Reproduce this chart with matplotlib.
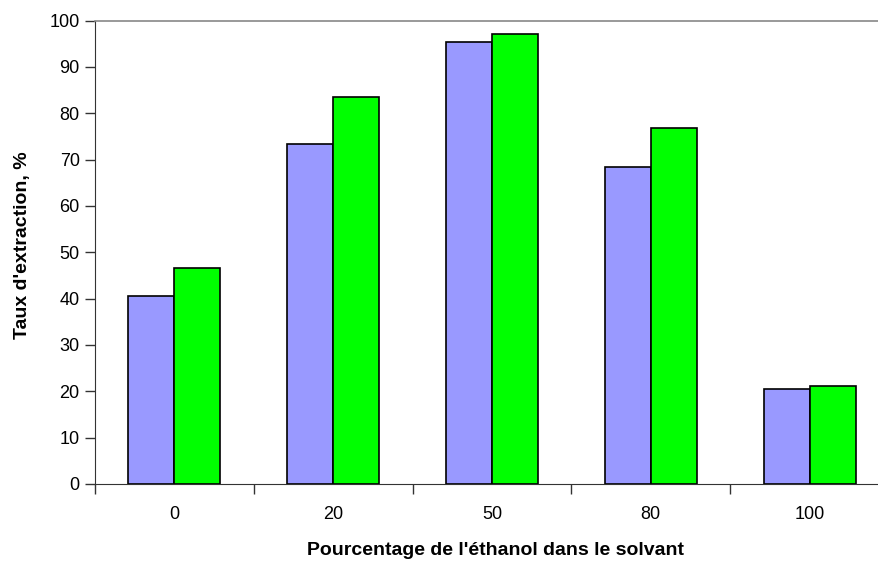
import numpy as np
import matplotlib.pyplot as plt

plt.rcParams['font.family'] = ['Liberation Sans', 'DejaVu Sans']

categories = ['0', '20', '50', '80', '100']
serie1 = [40.5, 73.3, 95.4, 68.4, 20.5]
serie2 = [46.5, 83.5, 97.0, 76.9, 21.2]

fig = plt.figure(figsize=(8.79, 5.63), dpi=100)
# axes run slightly past the right edge of the picture, as in the original
ax = fig.add_axes([95 / 879, 1 - 484 / 563, 794 / 879, 463.5 / 563])

x = np.arange(len(categories))
w = 0.29
ax.bar(x - w / 2, serie1, w, color='#9999FF', edgecolor='black', linewidth=1.2)
ax.bar(x + w / 2, serie2, w, color='#00FF00', edgecolor='black', linewidth=1.2)

ax.set_xlim(-0.5, len(categories) - 0.5)
ax.set_ylim(0, 100)
ax.set_yticks(range(0, 101, 10))

ax.set_xticks(x)
ax.set_xticklabels(categories, fontsize=13)
ax.set_xticks(np.arange(-0.5, len(categories), 1), minor=True)
ax.tick_params(axis='x', which='major', length=0, pad=16)
ax.tick_params(axis='x', which='minor', length=7, width=1, color='#333333')
ax.tick_params(axis='y', labelsize=13, length=7, width=1, color='#333333', pad=4)

ax.spines['top'].set_color('#888888')
ax.spines['top'].set_linewidth(1.2)
ax.spines['right'].set_visible(False)
ax.spines['left'].set_color('#333333')
ax.spines['bottom'].set_color('#333333')

ax.set_ylabel("Taux d'extraction, %", fontsize=14, fontweight='bold')
ax.yaxis.set_label_coords(-0.08, 0.516)
ax.set_xlabel("Pourcentage de l'éthanol dans le solvant", fontsize=14,
              fontweight='bold')
ax.xaxis.set_label_coords(0.504, -0.125)

fig.savefig('out.png', dpi=100)
